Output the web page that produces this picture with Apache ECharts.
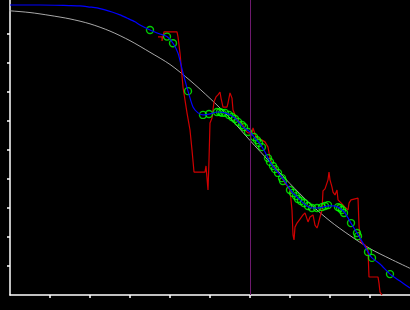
<!DOCTYPE html>
<html><head><meta charset="utf-8">
<script src="https://cdn.jsdelivr.net/npm/echarts@6/dist/echarts.min.js"></script>
<style>html,body{margin:0;padding:0;background:#000;}#c{width:410px;height:310px;}</style>
</head><body><div id="c"></div>
<script>
// Axis ticks (no labels shown in the reference)
const xTicks = [1,2,3,4,5,6,7,8,9];
const yTicks = [0.1,0.2,0.3,0.4,0.5,0.6,0.7,0.8,0.9];
const markerX = 6;

// Grey reference curve
const greyX = [-0.25,0,0.5,1,1.5,2,2.5,3,3.5,4,4.5,5,5.5,6,6.5,7,7.5,8,8.5,9,9.5,10];
const greyY = [0.983,0.980,0.974,0.964,0.952,0.935,0.910,0.877,0.837,0.795,0.740,0.678,0.610,0.533,0.458,0.384,0.315,0.255,0.205,0.160,0.125,0.092];

// Blue fitted curve
const blueX = [0,0.75,1.475,1.75,2.0,2.175,2.375,2.55,2.75,2.925,3.125,3.25,3.5,3.75,3.925,4.075,4.2,4.325,4.45,4.575,4.7,4.825,4.975,5.2,5.375,5.55,5.675,5.825,6.0,6.125,6.25,6.375,6.5,6.625,6.75,6.875,7.05,7.175,7.3,7.425,7.55,7.675,7.825,7.95,8.075,8.2,8.3,8.375,8.525,8.675,8.825,8.95,9.05,9.25,9.5,9.75,10.0];
const blueY = [1.0,1.0,0.998,0.997,0.993,0.990,0.983,0.976,0.966,0.955,0.942,0.931,0.914,0.900,0.891,0.868,0.834,0.766,0.703,0.648,0.628,0.621,0.624,0.631,0.628,0.617,0.603,0.579,0.562,0.541,0.521,0.493,0.459,0.434,0.414,0.390,0.355,0.338,0.321,0.307,0.300,0.300,0.303,0.307,0.307,0.303,0.293,0.283,0.248,0.214,0.179,0.148,0.128,0.107,0.072,0.048,0.024];

// Green observation markers
const obsX = [3.5,3.925,4.075,4.45,4.825,4.975,5.175,5.25,5.3,5.375,5.475,5.55,5.625,5.7,5.8,5.85,5.95,6.1,6.175,6.225,6.3,6.45,6.5,6.575,6.625,6.7,6.8,6.825,7.0,7.075,7.15,7.2,7.275,7.35,7.45,7.55,7.675,7.8,7.875,7.95,8.2,8.25,8.3,8.35,8.525,8.675,8.7,8.95,9.05,9.5];
const obsY = [0.914,0.891,0.868,0.703,0.621,0.624,0.631,0.631,0.628,0.628,0.621,0.614,0.607,0.597,0.586,0.579,0.562,0.545,0.534,0.524,0.510,0.472,0.459,0.445,0.434,0.421,0.403,0.393,0.362,0.352,0.341,0.331,0.324,0.317,0.307,0.300,0.300,0.303,0.307,0.310,0.303,0.300,0.293,0.283,0.248,0.214,0.203,0.148,0.128,0.072];

// Red raw trace
const redX = [3.7,3.8,3.8,3.825,3.85,4.175,4.2,4.25,4.325,4.425,4.5,4.55,4.6,4.875,4.9,4.925,4.95,4.975,5.0,5.05,5.1,5.15,5.2,5.25,5.275,5.325,5.425,5.45,5.5,5.55,5.575,5.625,5.675,5.8,5.875,5.95,6.05,6.075,6.125,6.15,6.2,6.3,6.375,6.45,6.5,6.575,6.675,6.75,6.875,7.0,7.05,7.075,7.1,7.125,7.175,7.25,7.325,7.375,7.45,7.5,7.575,7.625,7.675,7.7,7.75,7.8,7.825,7.875,7.925,7.95,7.975,8.0,8.05,8.075,8.125,8.175,8.2,8.25,8.3,8.375,8.45,8.475,8.525,8.55,8.7,8.725,8.75,8.8,8.875,8.925,8.95,8.975,9.2,9.225,9.25,9.3];
const redY = [0.890,0.890,0.876,0.876,0.907,0.907,0.890,0.834,0.717,0.628,0.569,0.500,0.424,0.424,0.445,0.445,0.362,0.466,0.593,0.610,0.666,0.683,0.690,0.700,0.679,0.648,0.648,0.662,0.697,0.679,0.638,0.621,0.603,0.593,0.569,0.559,0.559,0.576,0.576,0.545,0.541,0.534,0.528,0.510,0.472,0.445,0.431,0.414,0.386,0.362,0.293,0.207,0.190,0.234,0.248,0.262,0.276,0.283,0.252,0.269,0.276,0.241,0.231,0.241,0.269,0.293,0.359,0.366,0.372,0.397,0.424,0.397,0.372,0.355,0.345,0.362,0.328,0.321,0.314,0.303,0.293,0.317,0.328,0.334,0.334,0.241,0.190,0.179,0.172,0.166,0.155,0.062,0.062,0.041,0.010,0.0];

const zip = (a,b) => a.map((v,i) => [v,b[i]]);

const chart = echarts.init(document.getElementById('c'), null, {renderer:'canvas'});
chart.setOption({
  backgroundColor:'#000',
  animation:false,
  grid:{left:10,right:0,top:0,bottom:15},
  xAxis:{type:'value',min:0,max:10,interval:1,
    axisLine:{show:true,onZero:false,lineStyle:{color:'#fff',width:1.5}},
    axisTick:{show:true,length:3,customValues:xTicks,lineStyle:{color:'#fff',width:1.5}},
    axisLabel:{show:false},splitLine:{show:false}},
  yAxis:{type:'value',min:0,max:295/290,interval:0.1,
    axisLine:{show:true,onZero:false,lineStyle:{color:'#fff',width:1.5}},
    axisTick:{show:true,length:3,customValues:yTicks,lineStyle:{color:'#fff',width:1.5}},
    axisLabel:{show:false},splitLine:{show:false}},
  series:[
    {type:'line',data:zip(greyX,greyY),clip:false,showSymbol:false,smooth:0.3,
     lineStyle:{color:'#a8a8a8',width:1},z:1,
     markLine:{silent:true,symbol:'none',label:{show:false},
       lineStyle:{color:'#6e1a6e',width:1,type:'solid'},data:[{xAxis:markerX}]}},
    {type:'line',data:zip(redX,redY),clip:false,showSymbol:false,
     lineStyle:{color:'#d00000',width:1.2},z:2},
    {type:'scatter',data:zip(obsX,obsY),symbol:'circle',symbolSize:7,
     itemStyle:{color:'rgba(0,0,0,0)',borderColor:'#00ff00',borderWidth:1.4},z:3},
    {type:'line',data:zip(blueX,blueY),showSymbol:false,smooth:0.2,
     lineStyle:{color:'#0000ff',width:1.2},z:4}
  ]
});
</script></body></html>
